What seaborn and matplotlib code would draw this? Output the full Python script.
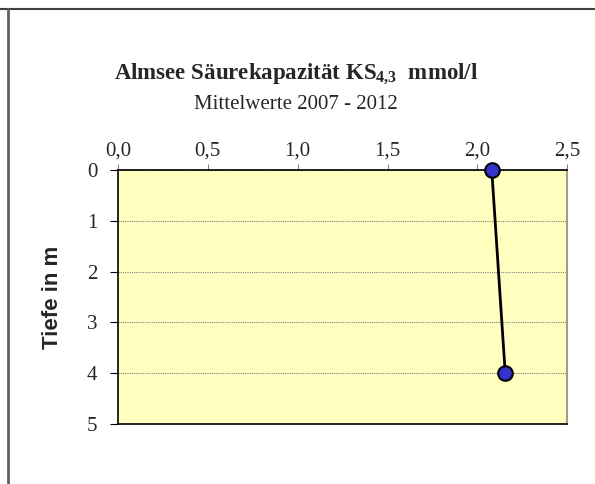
import matplotlib
matplotlib.use("Agg")
import matplotlib.pyplot as plt
import seaborn as sns
from matplotlib.lines import Line2D

# data
depth = [0, 4]
ks43 = [2.08, 2.155]
x_ticks = [0.0, 0.5, 1.0, 1.5, 2.0, 2.5]
x_labels = ["0,0", "0,5", "1,0", "1,5", "2,0", "2,5"]
y_ticks = [0, 1, 2, 3, 4, 5]

sns.set_style("white")
plt.rcParams["font.family"] = ["Liberation Serif", "DejaVu Serif"]
plt.rcParams["mathtext.fontset"] = "custom"
plt.rcParams["mathtext.rm"] = "Liberation Serif"
plt.rcParams["mathtext.bf"] = "Liberation Serif:bold"
plt.rcParams["mathtext.default"] = "bf"

fig = plt.figure(figsize=(5.95, 4.84), dpi=100)
ax = fig.add_axes([0.1983, 0.124, 0.755, 0.525])
ax.set_facecolor("#FFFFC0")

sns.lineplot(x=ks43, y=depth, orient="y", sort=False, ax=ax, color="black", lw=2,
             marker="o", markersize=10.5, markerfacecolor="#3333CC",
             markeredgecolor="black", markeredgewidth=1.5, zorder=5, clip_on=False)

ax.set_xlim(0, 2.5)
ax.set_ylim(5, 0)
ax.xaxis.tick_top()
ax.set_xticks(x_ticks)
ax.set_xticklabels(x_labels)
ax.set_yticks(y_ticks)
ax.tick_params(axis="x", top=True, bottom=False, direction="out", length=4, width=0.8,
               color="#808080", labelsize=15, pad=3)
ax.tick_params(axis="y", left=True, direction="out", length=6, width=0.8,
               color="black", labelsize=15, pad=9)
ax.yaxis.grid(True, linestyle=(0, (1, 1)), color="#808080", lw=0.8)
ax.xaxis.grid(False)
for s in ["top", "left", "bottom"]:
    ax.spines[s].set_color("black")
    ax.spines[s].set_linewidth(1.2)
ax.spines["right"].set_color("#A0A080")
ax.spines["right"].set_linewidth(1.5)

ax.set_xlabel("")
ax.set_ylabel("Tiefe in m", family=["Liberation Sans", "DejaVu Sans"],
              fontweight="bold", fontsize=16, labelpad=17)

fig.text(0.4975, 0.848, "Almsee Säurekapazität KS$_{4{,}3}$  mmol/l",
         ha="center", va="center", fontsize=16.5, fontweight="bold")
fig.text(0.4975, 0.785, "Mittelwerte 2007 - 2012", ha="center", va="center", fontsize=15)

# chart frame (top and left edges)
fig.add_artist(Line2D([0, 1], [1 - 9 / 484, 1 - 9 / 484], color="#404040", lw=1.5))
fig.add_artist(Line2D([8 / 595, 8 / 595], [0, 1 - 9 / 484], color="#606060", lw=2))

fig.savefig("out.png", dpi=100)
